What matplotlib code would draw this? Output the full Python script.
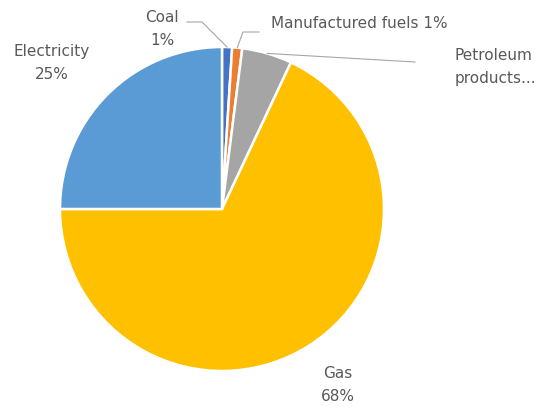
import numpy as np
import matplotlib.pyplot as plt

# energy use shares by fuel (clockwise from top)
fuels = ['Coal', 'Manufactured fuels', 'Petroleum products...', 'Gas', 'Electricity']
shares = [1, 1, 5, 68, 25]
pct = ['1%', '1%', '5%', '68%', '25%']
colors = ['#4472C4', '#ED7D31', '#A5A5A5', '#FFC000', '#5B9BD5']

W, H = 549, 410
fig = plt.figure(figsize=(W / 100, H / 100), dpi=100)
cx, cy, r = 222, 210, 162
ax = fig.add_axes([(cx - r) / W, (H - cy - r) / H, 2 * r / W, 2 * r / H])
wedges, _ = ax.pie(shares, colors=colors, startangle=90, counterclock=False,
                   radius=1, wedgeprops=dict(edgecolor='white', linewidth=1.8))
ax.set_xlim(-1, 1); ax.set_ylim(-1, 1)

def px2d(x, y):
    # pixel (from top-left) -> data coords of the pie axes
    return (x - cx) / r, (cy - y) / r

def anchor(w, rad=1.0):
    t = np.deg2rad((w.theta1 + w.theta2) / 2)
    return rad * np.cos(t), rad * np.sin(t)

tc = '#595959'
fs = 11
ls = 1.7
lc = '#A6A6A6'

# Coal
x, y = px2d(162, 29)
ax.text(x, y, fuels[0] + '\n' + pct[0], ha='center', va='center', color=tc, fontsize=fs, linespacing=ls)
a = anchor(wedges[0])
p1 = px2d(202, 23); p2 = px2d(187, 23)
ax.plot([a[0], p1[0], p2[0]], [a[1], p1[1], p2[1]], color=lc, lw=0.8, clip_on=False)

# Manufactured fuels
x, y = px2d(271, 23)
ax.text(x, y, fuels[1] + ' ' + pct[1], ha='left', va='center', color=tc, fontsize=fs)
a = anchor(wedges[1])
p1 = px2d(243, 33); p2 = px2d(259, 33)
ax.plot([a[0], p1[0], p2[0]], [a[1], p1[1], p2[1]], color=lc, lw=0.8, clip_on=False)

# Petroleum products
x, y = px2d(455, 67)
ax.text(x, y, 'Petroleum\nproducts...', ha='left', va='center', color=tc, fontsize=fs, linespacing=ls)
a = anchor(wedges[2])
p1 = px2d(415, 63)
ax.plot([a[0], p1[0]], [a[1], p1[1]], color=lc, lw=0.8, clip_on=False)

# Gas
x, y = px2d(338, 385)
ax.text(x, y, fuels[3] + '\n' + pct[3], ha='center', va='center', color=tc, fontsize=fs, linespacing=ls)

# Electricity
x, y = px2d(52, 63)
ax.text(x, y, fuels[4] + '\n' + pct[4], ha='center', va='center', color=tc, fontsize=fs, linespacing=ls)

fig.savefig('out.png', dpi=100)
